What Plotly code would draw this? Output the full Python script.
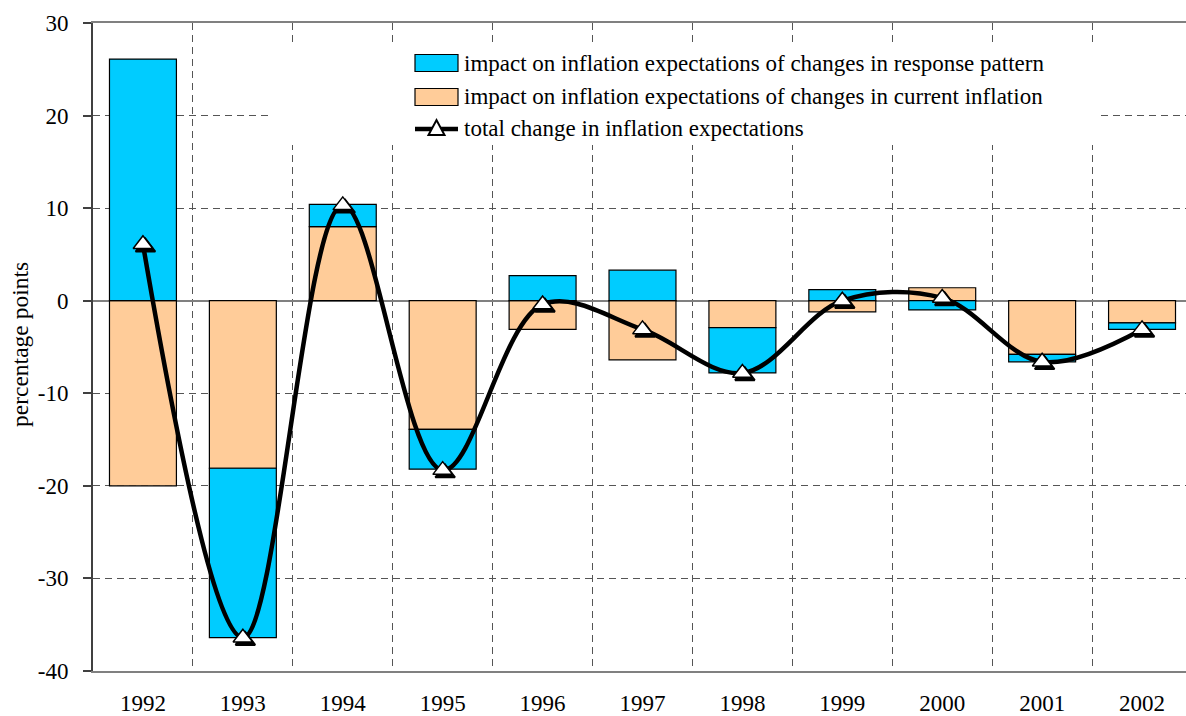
import plotly.graph_objects as go

years = ['1992', '1993', '1994', '1995', '1996', '1997', '1998', '1999', '2000', '2001', '2002']
current_inflation = [-20.0, -18.1, 8.0, -13.9, -3.1, -6.4, -2.9, -1.2, 1.4, -5.8, -2.4]
response_pattern = [26.1, -18.3, 2.4, -4.3, 2.7, 3.3, -4.9, 1.2, -1.0, -0.8, -0.7]
total_change = [6.1, -36.4, 10.3, -18.3, -0.4, -3.1, -7.8, 0.0, 0.3, -6.6, -3.1]

y_tick_values = [-40, -30, -20, -10, 0, 10, 20, 30]
y_tick_labels = ["-40", "-30", "-20", "-10", "0", "10", "20", "30"]

legend_labels = [
    "impact on inflation expectations of changes in response pattern",
    "impact on inflation expectations of changes in current inflation",
    "total change in inflation expectations",
]

FONT = "Liberation Serif"
GRID = "#555555"
BLUE = "#00CCFF"
ORANGE = "#FFCC99"

W, H = 1186, 716
ML, MR, MT, MB = 93, 0, 23, 45
PW, PH = W - ML - MR, H - MT - MB
XR = [-0.5, 10.44]
YR = [-40, 30]


def px(x):
    return (x - ML) / PW


def py(y):
    return (H - MB - y) / PH


def dx(x):
    return XR[0] + (x - ML) / PW * (XR[1] - XR[0])


def dy(y):
    return YR[1] - (y - MT) / PH * (YR[1] - YR[0])


# shadow offset in pixels -> axis units
SHX = 2.5 / PW * (XR[1] - XR[0])
SHY = 3.0 / PH * (YR[1] - YR[0])

fig = go.Figure()
fig.add_trace(go.Bar(
    x=years, y=current_inflation, name=legend_labels[1], showlegend=False,
    marker=dict(color=ORANGE, line=dict(color="black", width=1.2)), width=0.67,
))
fig.add_trace(go.Bar(
    x=years, y=response_pattern, name=legend_labels[0], showlegend=False,
    marker=dict(color=BLUE, line=dict(color="black", width=1.2)), width=0.67,
))
fig.add_trace(go.Scatter(
    x=years, y=total_change, name=legend_labels[2], showlegend=False,
    mode="lines", line=dict(color="black", width=4.5, shape="spline", smoothing=1.0),
))
# marker shadow (same data, drawn on an overlay axis shifted a few pixels)
fig.add_trace(go.Scatter(
    x=years, y=total_change, showlegend=False, xaxis="x2", yaxis="y2", mode="markers",
    marker=dict(symbol="triangle-up", size=17, color="black", line=dict(color="black", width=2)),
    hoverinfo="skip",
))
fig.add_trace(go.Scatter(
    x=years, y=total_change, name=legend_labels[2], showlegend=False, xaxis="x3", yaxis="y3",
    mode="markers",
    marker=dict(symbol="triangle-up", size=17, color="white", line=dict(color="black", width=1.5)),
))

# white area behind the legend (hides gridlines)
fig.add_shape(type="rect", xref="x", yref="y", x0=dx(268), x1=dx(1100), y0=dy(145), y1=dy(45),
              fillcolor="white", line=dict(width=0), layer="between")

# custom legend
rows_y = [63, 97, 129]
sw_x0, sw_x1, tx = 415, 458, 462
for i, col in enumerate([BLUE, ORANGE]):
    fig.add_shape(type="rect", xref="paper", yref="paper",
                  x0=px(sw_x0), x1=px(sw_x1), y0=py(rows_y[i] + 8.5), y1=py(rows_y[i] - 8.5),
                  fillcolor=col, line=dict(color="black", width=1.2), layer="above")
fig.add_shape(type="line", xref="paper", yref="paper", x0=px(sw_x0), x1=px(sw_x1),
              y0=py(rows_y[2]), y1=py(rows_y[2]), line=dict(color="black", width=4.5), layer="above")
cx, cy = 436.5, rows_y[2]
tri = "M {} {} L {} {} L {} {} Z".format(px(cx - 8), py(cy + 6), px(cx + 8), py(cy + 6), px(cx), py(cy - 9))
fig.add_shape(type="path", xref="paper", yref="paper", path=tri, fillcolor="white",
              line=dict(color="black", width=2), layer="above")
for i, lab in enumerate(legend_labels):
    fig.add_annotation(x=px(tx), y=py(rows_y[i]), xref="paper", yref="paper", text=lab, showarrow=False,
                       xanchor="left", yanchor="middle", font=dict(family=FONT, size=23, color="black"))

fig.add_annotation(x=px(20), y=py(345), xref="paper", yref="paper", text="percentage points",
                   textangle=-90, showarrow=False, xanchor="center", yanchor="middle",
                   font=dict(family=FONT, size=23.5, color="black"))

hidden = dict(visible=False, showgrid=False, zeroline=False, automargin=False, fixedrange=True)

fig.update_layout(
    width=W, height=H,
    barmode="relative",
    plot_bgcolor="white", paper_bgcolor="white",
    margin=dict(l=ML, r=MR, t=MT, b=MB, autoexpand=False),
    font=dict(family=FONT, size=23, color="black"),
    showlegend=False,
    xaxis=dict(
        range=XR, tickson="boundaries", showgrid=True, gridcolor=GRID,
        griddash="7px,5px", gridwidth=1, showline=True, linecolor="#808080", linewidth=2,
        mirror=True, ticks="", ticklabelstandoff=10, tickfont=dict(size=23), automargin=False,
    ),
    yaxis=dict(
        range=YR, tickvals=y_tick_values, ticktext=y_tick_labels, showgrid=True, gridcolor=GRID,
        griddash="7px,5px", gridwidth=1, zeroline=True, zerolinecolor="#808080", zerolinewidth=2,
        showline=True, linecolor="#404040", linewidth=2, ticks="outside", ticklen=8,
        tickcolor="#404040", tickwidth=2, tickfont=dict(size=23), automargin=False,
        ticklabelstandoff=10,
    ),
    xaxis2=dict(overlaying="x", range=[XR[0] - SHX, XR[1] - SHX], type="category",
                categoryarray=years, **hidden),
    yaxis2=dict(overlaying="y", range=[YR[0] + SHY, YR[1] + SHY], **hidden),
    xaxis3=dict(overlaying="x", range=XR, type="category", categoryarray=years, **hidden),
    yaxis3=dict(overlaying="y", range=YR, **hidden),
)

fig.write_html("out.html", config={"displayModeBar": False},
               post_script="document.body.style.margin='0px';document.body.style.overflow='hidden';")
